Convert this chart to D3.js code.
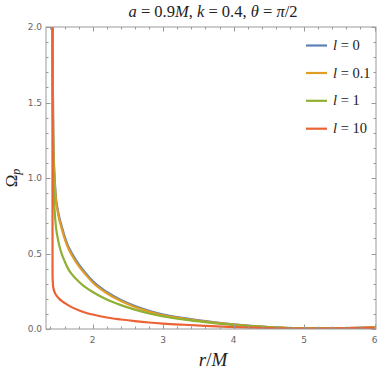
<!DOCTYPE html>
<html><head><meta charset="utf-8">
<script src="https://cdn.jsdelivr.net/npm/d3@7"></script>
<style>body{margin:0;background:#fff}svg{display:block}</style>
</head><body>
<script>
const rValues = [1.427,1.43,1.435,1.44,1.45,1.46,1.48,1.5,1.53,1.56,1.6,1.65,1.7,1.8,1.9,2.0,2.2,2.4,2.6,2.8,3.0,3.3,3.6,4.0,4.5,5.0,5.5,6.0];
const omegaL0   = [2.6,2.1,1.6,1.3,1.1,1.0,0.86,0.80,0.73,0.68,0.615,0.55,0.505,0.43,0.37,0.318,0.245,0.192,0.152,0.12,0.095,0.072,0.052,0.031,0.013,0.004,0.005,0.012];
const omegaL01  = [2.6,2.05,1.55,1.27,1.07,0.975,0.845,0.785,0.715,0.665,0.6,0.538,0.492,0.418,0.36,0.308,0.237,0.185,0.146,0.115,0.09,0.068,0.049,0.029,0.012,0.004,0.005,0.013];
const omegaL1   = [2.6,1.9,1.4,1.1,0.88,0.78,0.67,0.61,0.545,0.497,0.45,0.40,0.365,0.315,0.275,0.245,0.195,0.158,0.128,0.103,0.083,0.062,0.045,0.026,0.012,0.004,0.004,0.01];
const omegaL10  = [2.6,0.36,0.30,0.277,0.256,0.243,0.225,0.213,0.198,0.186,0.173,0.158,0.145,0.124,0.108,0.096,0.076,0.063,0.052,0.043,0.036,0.028,0.021,0.013,0.006,0.003,0.004,0.008];
const seriesNames = ["0","0.1","1","10"];
const seriesColors = ["#5E81B5","#E19C24","#8FB032","#EB6235"];
const xMajorTicks = [2,3,4,5,6];
const yMajorTicks = [0,0.5,1.0,1.5,2.0];

const W=382,H=373;
const L=46,R=376,T=27,B=329;
const svg=d3.select("body").append("svg").attr("width",W).attr("height",H);
const x=d3.scaleLinear().domain([1.337,6.02]).range([L,R]);
const y=d3.scaleLinear().domain([0,2]).range([B,T]);

const allSeries=[omegaL0,omegaL01,omegaL1,omegaL10];
svg.append("clipPath").attr("id","clip").append("rect").attr("x",L).attr("y",T).attr("width",R-L).attr("height",B-T);

const line=d3.line().x(d=>x(d[0])).y(d=>y(d[1])).curve(d3.curveMonotoneX);
const g=svg.append("g").attr("clip-path","url(#clip)");
allSeries.forEach((s,i)=>{
  g.append("path").datum(rValues.map((r,j)=>[r,s[j]]))
   .attr("d",line).attr("fill","none").attr("stroke",seriesColors[i])
   .attr("stroke-width",2.2).attr("stroke-linejoin","round");
});

// frame
const frameColor="#999";
svg.append("rect").attr("x",L).attr("y",T).attr("width",R-L).attr("height",B-T)
  .attr("fill","none").attr("stroke",frameColor).attr("stroke-width",1);

const xMinor=d3.range(1.4,6.01,0.2).map(v=>+v.toFixed(2)).filter(v=>!xMajorTicks.some(m=>Math.abs(m-v)<1e-6));
const yMinor=d3.range(0.1,2.0,0.1).map(v=>+v.toFixed(2)).filter(v=>!yMajorTicks.some(m=>Math.abs(m-v)<1e-6));

function xTicks(vals,len){
  vals.forEach(v=>{
    const px=Math.round(x(v))+0.5;
    svg.append("line").attr("x1",px).attr("x2",px).attr("y1",B).attr("y2",B-len).attr("stroke",frameColor);
    svg.append("line").attr("x1",px).attr("x2",px).attr("y1",T).attr("y2",T+len).attr("stroke",frameColor);
  });
}
function yTicks(vals,len){
  vals.forEach(v=>{
    const py=Math.round(y(v))+0.5;
    svg.append("line").attr("x1",L).attr("x2",L+len).attr("y1",py).attr("y2",py).attr("stroke",frameColor);
    svg.append("line").attr("x1",R).attr("x2",R-len).attr("y1",py).attr("y2",py).attr("stroke",frameColor);
  });
}
xTicks(xMajorTicks,4.5); xTicks(xMinor,2.5);
yTicks(yMajorTicks,4.5); yTicks(yMinor,2.5);

const tickFont="'DejaVu Sans', sans-serif";
xMajorTicks.forEach(v=>{
  svg.append("text").attr("x",x(v)).attr("y",343).attr("text-anchor","middle")
    .attr("font-family",tickFont).attr("font-size",9).attr("fill","#666").text(d3.format("d")(v));
});
yMajorTicks.forEach(v=>{
  svg.append("text").attr("x",42).attr("y",y(v)+3).attr("text-anchor","end")
    .attr("font-family",tickFont).attr("font-size",9).attr("fill","#666").text(d3.format(".1f")(v));
});

const serif="'Liberation Serif','DejaVu Serif',serif";
// title
const title=svg.append("text").attr("x",213).attr("y",17).attr("text-anchor","middle")
  .attr("font-family",serif).attr("font-size",16.5).attr("fill","#222");
[["a","i"],[" = 0.9",""],["M","i"],[", ",""],["k","i"],[" = 0.4, ",""],["θ","i"],[" = ",""],["π","i"],["/2",""]]
 .forEach(([t,s])=>title.append("tspan").attr("font-style",s?"italic":"normal").text(t));

// x label
const xl=svg.append("text").attr("x",213).attr("y",366).attr("text-anchor","middle")
  .attr("font-family",serif).attr("font-size",19).attr("fill","#222");
xl.append("tspan").attr("font-style","italic").text("r");
xl.append("tspan").text("/");
xl.append("tspan").attr("font-style","italic").text("M");

// y label
const yl=svg.append("text").attr("transform","translate(17,178) rotate(-90)").attr("text-anchor","middle")
  .attr("font-family",serif).attr("font-size",17).attr("fill","#222");
yl.append("tspan").text("Ω");
yl.append("tspan").attr("font-style","italic").attr("font-size",12).attr("dy",3).text("p");

// legend
const legY=[45.5,73,100.8,128.7];
seriesNames.forEach((n,i)=>{
  svg.append("line").attr("x1",306).attr("x2",327).attr("y1",legY[i]).attr("y2",legY[i])
    .attr("stroke",seriesColors[i]).attr("stroke-width",2.2);
  const t=svg.append("text").attr("x",333).attr("y",legY[i]+4.5)
    .attr("font-family",serif).attr("font-size",14.5).attr("fill","#222");
  t.append("tspan").attr("font-style","italic").text("l");
  t.append("tspan").text(" = "+n);
});
</script>
</body></html>
